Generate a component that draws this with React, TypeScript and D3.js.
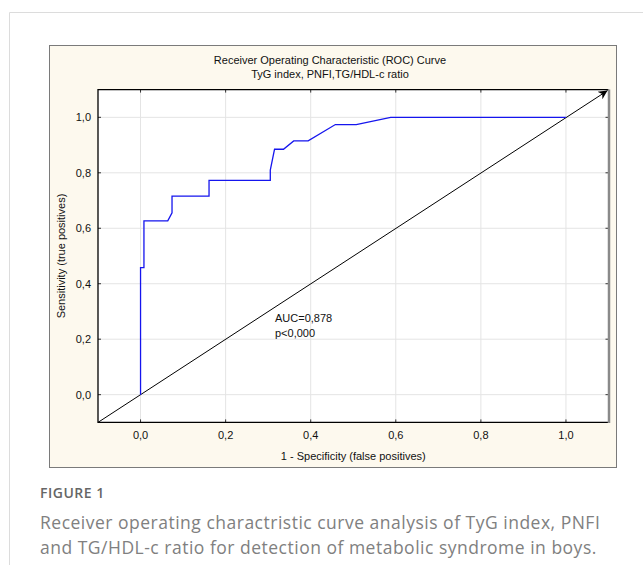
import React, { useEffect, useRef } from "react";
import * as d3 from "d3";

// ROC curve vertices
const fpr = [0, 0, 0.008, 0.008, 0.064, 0.074, 0.074, 0.161, 0.161, 0.305, 0.305, 0.315, 0.336, 0.36, 0.394, 0.458, 0.507, 0.588, 1.0];
const tpr = [0, 0.458, 0.458, 0.627, 0.627, 0.656, 0.716, 0.716, 0.773, 0.773, 0.81, 0.885, 0.885, 0.915, 0.915, 0.974, 0.974, 1.0, 1.0];
const ticks = [0, 0.2, 0.4, 0.6, 0.8, 1.0];
const titleLines = ["Receiver Operating Characteristic (ROC) Curve", "TyG index, PNFI,TG/HDL-c ratio"];
const aucLines = ["AUC=0,878", "p<0,000"];
const captionLines = [
  "Receiver operating charactristic curve analysis of TyG index, PNFI",
  "and TG/HDL-c ratio for detection of metabolic syndrome in boys.",
];

const W = 643;
const H = 573;
const fmt = (v: number) => d3.format(".1f")(v).replace(".", ",");

const App = () => {
  const svgRef = useRef<SVGSVGElement>(null);

  useEffect(() => {
    const svg = d3.select(svgRef.current);
    svg.selectAll("*").remove();

    const x = d3.scaleLinear().domain([-0.1, 1.1]).range([98, 608.5]);
    const y = d3.scaleLinear().domain([-0.1, 1.1]).range([422.4, 89.6]);
    const font = "'Liberation Sans', Arial, sans-serif";

    // outer page frame
    svg.append("path").attr("d", "M9.5,565 V12.5 H643").attr("fill", "none").attr("stroke", "#dcdcdc");

    // panel
    svg.append("rect").attr("x", 49.5).attr("y", 45.5).attr("width", 567).attr("height", 422)
      .attr("fill", "#fdf9ee").attr("stroke", "#7a7a7a");

    // plot area
    const [x0, x1] = x.range();
    const [y0, y1] = y.range();
    svg.append("rect").attr("x", x0).attr("y", y1).attr("width", x1 - x0).attr("height", y0 - y1).attr("fill", "#fff");

    const g = svg.append("g");
    // grid
    g.selectAll(".gx").data(ticks).join("line")
      .attr("x1", (d) => x(d)).attr("x2", (d) => x(d)).attr("y1", y1).attr("y2", y0)
      .attr("stroke", "#e4e4e4");
    g.selectAll(".gy").data(ticks).join("line").attr("class", "gy")
      .attr("y1", (d) => y(d)).attr("y2", (d) => y(d)).attr("x1", x0).attr("x2", x1)
      .attr("stroke", "#e4e4e4");

    // inward ticks
    const tl = 3;
    ticks.forEach((t) => {
      g.append("line").attr("x1", x(t)).attr("x2", x(t)).attr("y1", y0).attr("y2", y0 - tl).attr("stroke", "#333");
      g.append("line").attr("x1", x(t)).attr("x2", x(t)).attr("y1", y1).attr("y2", y1 + tl).attr("stroke", "#333");
      g.append("line").attr("y1", y(t)).attr("y2", y(t)).attr("x1", x0).attr("x2", x0 + tl).attr("stroke", "#333");
      g.append("line").attr("y1", y(t)).attr("y2", y(t)).attr("x1", x1).attr("x2", x1 - tl).attr("stroke", "#333");
    });

    // frame
    svg.append("path").attr("d", `M${x1},${y1} H${x0} V${y0} H${x1}`).attr("fill", "none").attr("stroke", "#000").attr("stroke-width", 1.3);
    svg.append("line").attr("x1", x1 + 0.5).attr("x2", x1 + 0.5).attr("y1", y1).attr("y2", y0 + 0.6)
      .attr("stroke", "#8a8a8a").attr("stroke-width", 2.5);

    // tick labels
    svg.append("g").selectAll("text").data(ticks).join("text")
      .attr("x", (d) => x(d)).attr("y", 439).attr("text-anchor", "middle")
      .attr("font-family", font).attr("font-size", 11).attr("fill", "#111").text(fmt);
    svg.append("g").selectAll("text").data(ticks).join("text")
      .attr("x", 91).attr("y", (d) => y(d) + 4).attr("text-anchor", "end")
      .attr("font-family", font).attr("font-size", 11).attr("fill", "#111").text(fmt);

    // diagonal reference with arrow
    svg.append("defs").append("marker").attr("id", "arr").attr("viewBox", "0 0 10 10")
      .attr("refX", 10).attr("refY", 5).attr("markerWidth", 12).attr("markerHeight", 9)
      .attr("markerUnits", "userSpaceOnUse").attr("orient", "auto")
      .append("path").attr("d", "M0,0 L10,5 L0,10 L3,5 Z").attr("fill", "#000");
    svg.append("line").attr("x1", x(-0.1)).attr("y1", y(-0.1)).attr("x2", x(1.1) - 1).attr("y2", y(1.1) + 1)
      .attr("stroke", "#000").attr("stroke-width", 1).attr("marker-end", "url(#arr)");

    // ROC curve
    const line = d3.line<number>().x((_, i) => x(fpr[i])).y((d) => y(d));
    svg.append("path").attr("d", line(tpr)).attr("fill", "none").attr("stroke", "#1515ee").attr("stroke-width", 1.3);

    // annotation
    svg.append("g").selectAll("text").data(aucLines).join("text")
      .attr("x", 275).attr("y", (_, i) => 322 + i * 14.5)
      .attr("font-family", font).attr("font-size", 11).attr("fill", "#111").text((d) => d);

    // titles
    svg.append("g").selectAll("text").data(titleLines).join("text")
      .attr("x", 330).attr("y", (_, i) => 64 + i * 13.5).attr("text-anchor", "middle")
      .attr("font-family", font).attr("font-size", 11).attr("fill", "#111").text((d) => d);

    svg.append("text").attr("x", (x0 + x1) / 2 - 0).attr("y", 460).attr("text-anchor", "middle")
      .attr("font-family", font).attr("font-size", 11).attr("fill", "#111").text("1 - Specificity (false positives)");
    svg.append("text").attr("transform", `translate(65,${(y0 + y1) / 2}) rotate(-90)`).attr("text-anchor", "middle")
      .attr("font-family", font).attr("font-size", 11).attr("fill", "#111").text("Sensitivity (true positives)");

    // caption
    svg.append("text").attr("x", 40).attr("y", 498).attr("font-family", "'Open Sans', sans-serif")
      .attr("font-size", 14).attr("font-weight", 600).attr("letter-spacing", 0.5).attr("fill", "#666").text("FIGURE 1");
    svg.append("g").selectAll("text").data(captionLines).join("text")
      .attr("x", 40).attr("y", (_, i) => 529 + i * 25)
      .attr("font-family", "'Open Sans', sans-serif").attr("font-size", 17.5).attr("letter-spacing", 0.5)
      .attr("fill", "#808080").text((d) => d);
  }, []);

  return (
    <div style={{ position: "absolute", left: 0, top: 0 }}>
      <svg ref={svgRef} width={W} height={H} style={{ display: "block" }} />
    </div>
  );
};

export default App;
